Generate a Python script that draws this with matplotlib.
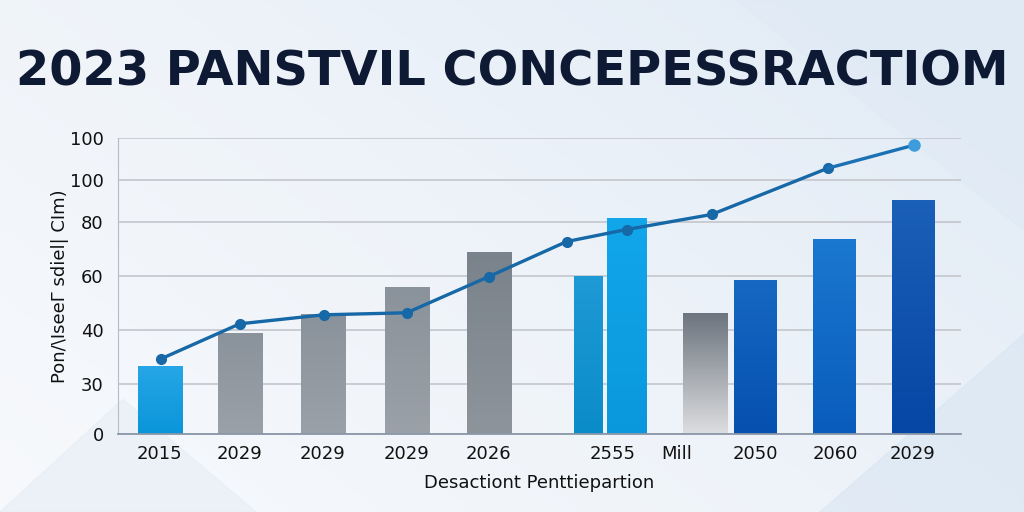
import numpy as np
import matplotlib.pyplot as plt
from matplotlib.colors import LinearSegmentedColormap, to_rgb
from matplotlib.patches import Polygon

# data (heights in the chart's own, uneven axis units)
tick_values = [0, 50, 104, 158, 212, 253, 295]
tick_labels = ["0", "30", "40", "60", "80", "100", "100"]

x_labels = ["2015", "2029", "2029", "2029", "2026", "2555", "Mill", "2050", "2060", "2029"]
bar_heights = [68, 101, 120, 147, 182, 158, 215, 121, 154, 195, 233]
line_values = [75, 110, 119, 121, 157, 192, 204, 219, 265, 288]

title = "2023 PANSTVIL CONCEPESSRACTIOM"
x_title = "Desactiont Penttiepartion"
y_title = "Pon/\\IseeΓ sdiel| CIm)"

# layout
label_pos = [42, 122, 205, 289, 371, 495, 559, 638, 718, 795]
bar_pos = [42.5, 122.5, 205.5, 289.5, 371.5, 470.5, 509, 587.5, 638, 716.5, 795.5]
bar_w = [45, 45, 45, 45, 45, 29, 40, 45, 43, 43, 43]
line_pos = [43, 122, 206, 289, 371, 449, 509, 594, 710, 796]
bar_top = ["#26a6e6", "#8a929b", "#8a929b", "#8a929b", "#7a828b", "#1e9ad6",
           "#12a6ea", "#6c747e", "#1668c2", "#1a78d0", "#1a5fb8"]
bar_bot = ["#0a96da", "#9aa1a8", "#9aa1a8", "#9aa1a8", "#8d949b", "#0a8cc8",
           "#0a98dc", "#dcdddf", "#0550b0", "#0a5cbc", "#0646a4"]

fig = plt.figure(figsize=(10.24, 5.12), dpi=100)

# background
bg = fig.add_axes([0, 0, 1, 1])
gx, gy = np.meshgrid(np.linspace(0, 1, 256), np.linspace(0, 1, 128))
g = 0.6 * gx + 0.4 * gy
bg_cmap = LinearSegmentedColormap.from_list("bg", ["#f7f9fc", "#eef3f9", "#e0eaf5"])
bg.imshow(g, cmap=bg_cmap, extent=[0, 1, 0, 1], aspect="auto", origin="lower")
bg.add_patch(Polygon([[0.72, 1], [1, 1], [1, 0.55]], closed=True, color="#dfeaf5", alpha=0.6))
bg.add_patch(Polygon([[0.80, 0.0], [1, 0.0], [1, 0.35]], closed=True, color="#d6e4f2", alpha=0.5))
bg.add_patch(Polygon([[0.0, 0.0], [0.25, 0.0], [0.12, 0.22]], closed=True, color="#e6edf5", alpha=0.6))
bg.set_xlim(0, 1)
bg.set_ylim(0, 1)
bg.axis("off")

fig.text(0.5, 0.86, title, ha="center", va="center", fontsize=34.5,
         fontweight="bold", color="#0e1a33", family="DejaVu Sans")

ax = fig.add_axes([0.115, 0.152, 0.823, 0.578])
ax.patch.set_alpha(0)
ax.set_xlim(0, 843)
ax.set_ylim(0, 295)

ax.set_yticks(tick_values)
ax.set_yticklabels(tick_labels)
ax.yaxis.grid(True, color="#c9cdd3", linewidth=1.4)
ax.set_axisbelow(True)

for x, w, h, c1, c2 in zip(bar_pos, bar_w, bar_heights, bar_top, bar_bot):
    grad = np.linspace(1, 0, 64).reshape(-1, 1)
    cmap = LinearSegmentedColormap.from_list("b", [to_rgb(c2), to_rgb(c1)])
    bar = ax.bar(x, h, width=w, color=c1, zorder=2)[0]
    im = ax.imshow(grad, cmap=cmap, extent=[x - w / 2, x + w / 2, 0, h],
                   aspect="auto", zorder=2.1)
    im.set_clip_path(bar)

ax.plot(line_pos[:-1], line_values[:-1], color="#1668a6", linewidth=2.4,
        marker="o", markersize=7, zorder=4)
ax.plot(line_pos[-2:], line_values[-2:], color="#1a72b4", linewidth=2.4, zorder=4)
ax.plot(line_pos[-1], line_values[-1], "o", color="#3d9ddc", markersize=8, zorder=5)

ax.set_xticks(label_pos)
ax.set_xticklabels(x_labels)
ax.tick_params(axis="both", length=0, labelsize=13, colors="#111111")
ax.tick_params(axis="x", pad=8)
ax.tick_params(axis="y", pad=10)

for s in ["top", "right"]:
    ax.spines[s].set_visible(False)
ax.spines["left"].set_color("#b6bcc4")
ax.spines["bottom"].set_color("#8a97a8")
ax.spines["bottom"].set_linewidth(1.3)

ax.set_xlabel(x_title, fontsize=13, color="#111111", labelpad=8)
ax.set_ylabel(y_title, fontsize=13, color="#111111", labelpad=1)

fig.savefig("out.png", dpi=100)
